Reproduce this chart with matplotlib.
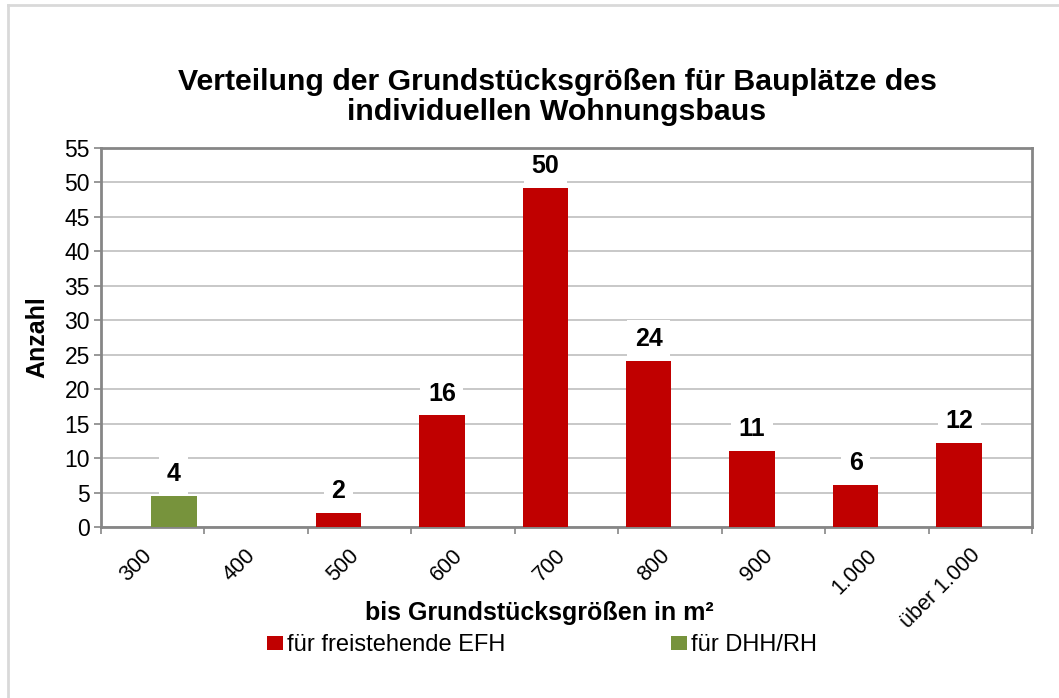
import numpy as np
import matplotlib.pyplot as plt
from matplotlib.lines import Line2D
from matplotlib.transforms import ScaledTranslation

plt.rcParams['font.family'] = ['Liberation Sans', 'DejaVu Sans']

# categories (upper bound of plot size)
categories = ["300", "400", "500", "600", "700", "800", "900", "1.000", "über 1.000"]
# bar heights as drawn, and the labels printed on them
efh_values = [0, 0, 2.1, 16.2, 49.2, 24.1, 11.1, 6.1, 12.2]
dhh_values = [4.5, 0, 0, 0, 0, 0, 0, 0, 0]
efh_labels = ["", "", "2", "16", "50", "24", "11", "6", "12"]
dhh_labels = ["4", "", "", "", "", "", "", "", ""]
yticks = list(range(0, 56, 5))

red = "#C00000"
green = "#77933C"

fig = plt.figure(figsize=(10.59, 6.98), dpi=100)
W, H = 1059, 698
ax = fig.add_axes([101 / W, 1 - 527 / H, (1032 - 101) / W, (527 - 148) / H])

x = np.arange(len(categories))
bw = 0.44
b1 = ax.bar(x - 0.205, efh_values, bw, color=red, label="für freistehende EFH", zorder=3)
b2 = ax.bar(x + 0.205, dhh_values, bw, color=green, label="für DHH/RH", zorder=3)

# data labels with white boxes
for bars, labels in ((b1, efh_labels), (b2, dhh_labels)):
    for rect, lab in zip(bars, labels):
        if not lab:
            continue
        ax.annotate(lab, (rect.get_x() + rect.get_width() / 2, rect.get_height()),
                    xytext=(0, 15.5), textcoords="offset points",
                    ha="center", va="center", fontsize=18, fontweight="bold",
                    bbox=dict(boxstyle="square,pad=0.3", fc="white", ec="none"),
                    zorder=2.5)

ax.set_xlim(-0.5, len(categories) - 0.5)
ax.set_ylim(0, 55)
ax.set_yticks(yticks)
ax.tick_params(axis="y", labelsize=16.5, length=5, color="#868686", width=1.2, pad=3)
ax.yaxis.grid(True, color="#BFBFBF", linewidth=1.2, zorder=0)
ax.set_axisbelow(True)

ax.set_xticks(x)
ax.set_xticklabels(categories, rotation=45, ha="right", va="top", fontsize=15.5)
ax.tick_params(axis="x", which="major", length=0, pad=13)
ax.set_xticks(np.arange(-0.5, len(categories), 1), minor=True)
ax.tick_params(axis="x", which="minor", length=5, color="#868686", width=1.2)
shift = ScaledTranslation(4 / 100, 0, fig.dpi_scale_trans)
for lbl in ax.get_xticklabels():
    lbl.set_transform(lbl.get_transform() + shift)

for sp in ax.spines.values():
    sp.set_color("#868686")
    sp.set_linewidth(2)

fig.text(557 / W, 1 - 97 / H,
         "Verteilung der Grundstücksgrößen für Bauplätze des\nindividuellen Wohnungsbaus",
         ha="center", va="center", fontsize=21.8, fontweight="bold", linespacing=1.12)
fig.text(37 / W, 1 - 337 / H, "Anzahl", rotation=90, ha="center", va="center",
         fontsize=18, fontweight="bold")
fig.text(539 / W, 1 - 613 / H, "bis Grundstücksgrößen in m²", ha="center", va="center",
         fontsize=18, fontweight="bold")

leg = fig.legend(handles=[b1, b2], loc="center", bbox_to_anchor=(542 / W, 1 - 645 / H),
                 ncol=2, fontsize=17, frameon=True, facecolor="white", edgecolor="none",
                 framealpha=1, fancybox=False, handlelength=0.68, handleheight=0.55,
                 handletextpad=0.17, columnspacing=7.0, borderpad=0.2)

# outer chart border (top and left only visible)
fig.add_artist(Line2D([8 / W, 1], [1 - 5 / H, 1 - 5 / H], color="#D9D9D9", lw=2))
fig.add_artist(Line2D([8 / W, 8 / W], [0, 1 - 5 / H], color="#D9D9D9", lw=2))

fig.savefig("out.png", dpi=100)
